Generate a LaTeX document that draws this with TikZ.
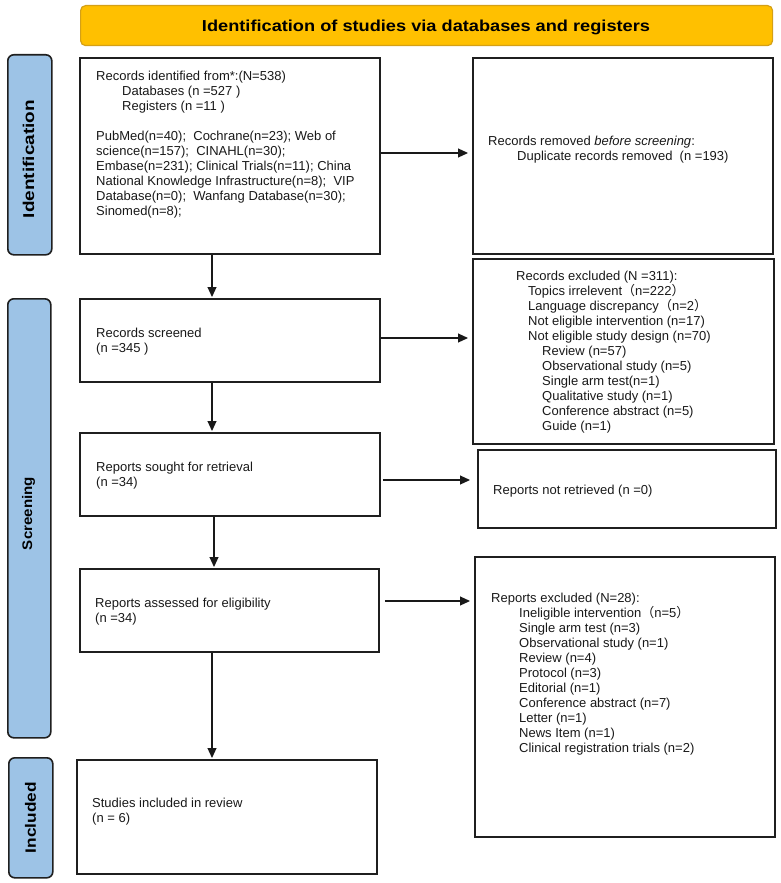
\documentclass[tikz,border=0pt]{standalone}
\usepackage{fontspec}
\setmainfont{Liberation Sans}
\newfontfamily\cjkfont{Noto Sans CJK SC}
\usetikzlibrary{arrows.meta}
\definecolor{gold}{HTML}{FFC000}
\definecolor{goldedge}{HTML}{D4A017}
\definecolor{labblue}{HTML}{9DC3E6}
\newcommand{\flp}{{\cjkfont （}}
\newcommand{\frp}{{\cjkfont ）}}
\begin{document}
\begin{tikzpicture}[x=1pt,y=-1pt,
  box/.style={draw=black!88, line width=1.8pt, fill=white, anchor=north west, inner sep=0pt},
  lab/.style={draw=black!88, line width=1.6pt, fill=labblue, rounded corners=6pt, anchor=north west, inner sep=0pt},
  txt/.style={anchor=north west, inner sep=0pt, align=left, font=\fontsize{13}{15}\selectfont, text=black!90},
  arr/.style={-{Triangle[length=10pt,width=9pt]}, line width=1.1pt, draw=black!90}]
\useasboundingbox (0,0) rectangle (780,883);

% title bar
\node[fill=gold, draw=goldedge, line width=1.2pt, rounded corners=5pt, anchor=north west, inner sep=0pt,
      minimum width=692pt, minimum height=40pt] (title) at (80,5) {};
\node[anchor=base, inner sep=0pt] (titletext) at (426,32) {\resizebox{448pt}{11.5pt}{\bfseries Identification of studies via databases and registers}};

% side labels
\node[lab, minimum width=44pt, minimum height=200pt] (idlab) at (7,54) {};
\node[lab, minimum width=43pt, minimum height=439pt] (scrlab) at (7,298) {};
\node[lab, minimum width=44pt, minimum height=120pt] (inclab) at (8,757) {};
\node[rotate=90, inner sep=0pt] (idtext) at (28.5,159) {\resizebox*{118pt}{11.5pt}{\bfseries Identification}};
\node[rotate=90, inner sep=0pt] (scrtext) at (28.5,513.5) {\resizebox*{73pt}{13pt}{\bfseries Screening}};
\node[rotate=90, inner sep=0pt] (inctext) at (30.5,817.5) {\resizebox*{71pt}{11pt}{\bfseries Included}};

% boxes
\node[box, minimum width=300pt, minimum height=196pt] (b1) at (79,57) {};
\node[box, minimum width=300pt, minimum height=196pt] (rem) at (472,57) {};
\node[box, minimum width=300pt, minimum height=83pt] (scr) at (79,298) {};
\node[box, minimum width=301pt, minimum height=185pt] (exc) at (472,258) {};
\node[box, minimum width=300pt, minimum height=83pt] (sought) at (79,432) {};
\node[box, minimum width=298pt, minimum height=78pt] (notret) at (477,449) {};
\node[box, minimum width=299pt, minimum height=83pt] (assess) at (79,568) {};
\node[box, minimum width=300pt, minimum height=280pt] (repexc) at (474,556) {};
\node[box, minimum width=300pt, minimum height=114pt] (incl) at (76,759) {};

% texts
\node[txt] (t1) at (96,70.5) {Records identified from*:(N=538)\\
\hspace*{26pt}Databases (n =527 )\\
\hspace*{26pt}Registers (n =11 )\\[15pt]
PubMed(n=40);\ \ Cochrane(n=23); Web of\\
science(n=157);\ \ CINAHL(n=30);\\
Embase(n=231); Clinical Trials(n=11); China\\
National Knowledge Infrastructure(n=8);\ \ VIP\\
Database(n=0);\ \ Wanfang Database(n=30);\\
Sinomed(n=8);};

\node[txt] (t2) at (488,135.5) {Records removed \textit{before screening}:\\
\hspace*{29pt}Duplicate records removed\ \ (n =193)};

\node[txt] (t3) at (516,270.5) {Records excluded (N =311):\\
\hspace*{12pt}Topics irrelevent\flp n=222\frp\\
\hspace*{12pt}Language discrepancy\flp n=2\frp\\
\hspace*{12pt}Not eligible intervention (n=17)\\
\hspace*{12pt}Not eligible study design (n=70)\\
\hspace*{26pt}Review (n=57)\\
\hspace*{26pt}Observational study (n=5)\\
\hspace*{26pt}Single arm test(n=1)\\
\hspace*{26pt}Qualitative study (n=1)\\
\hspace*{26pt}Conference abstract (n=5)\\
\hspace*{26pt}Guide (n=1)};

\node[txt] (t4) at (96,327.5) {Records screened\\(n =345 )};
\node[txt] (t5) at (96,462) {Reports sought for retrieval\\(n =34)};
\node[txt] (t6) at (493,484.5) {Reports not retrieved (n =0)};
\node[txt] (t7) at (95,597.5) {Reports assessed for eligibility\\(n =34)};

\node[txt] (t8) at (491,592.5) {Reports excluded (N=28):\\
\hspace*{28pt}Ineligible intervention\flp n=5\frp\\
\hspace*{28pt}Single arm test (n=3)\\
\hspace*{28pt}Observational study (n=1)\\
\hspace*{28pt}Review (n=4)\\
\hspace*{28pt}Protocol (n=3)\\
\hspace*{28pt}Editorial (n=1)\\
\hspace*{28pt}Conference abstract (n=7)\\
\hspace*{28pt}Letter (n=1)\\
\hspace*{28pt}News Item (n=1)\\
\hspace*{28pt}Clinical registration trials (n=2)};

\node[txt] (t9) at (92,797.5) {Studies included in review\\(n = 6)};

% connector guides
\coordinate (vA) at (212,0);
\coordinate (vB) at (214,0);
\coordinate (hA) at (0,153);
\coordinate (hB) at (0,338);
\coordinate (hC) at (0,480);
\coordinate (hD) at (0,601);

% vertical arrows
\draw[arr, shorten >=1pt] (vA |- b1.south) -- (vA |- scr.north);
\draw[arr, shorten >=1pt] (vA |- scr.south) -- (vA |- sought.north);
\draw[arr, shorten >=1pt] (vB |- sought.south) -- (vB |- assess.north);
\draw[arr, shorten >=1pt] (vA |- assess.south) -- (vA |- incl.north);

% horizontal arrows
\draw[arr, shorten >=4pt] (hA -| b1.east) -- (hA -| rem.west);
\draw[arr, shorten >=4pt] (hB -| scr.east) -- (hB -| exc.west);
\draw[arr, shorten <=2pt, shorten >=7pt] (hC -| sought.east) -- (hC -| notret.west);
\draw[arr, shorten <=5pt, shorten >=4pt] (hD -| assess.east) -- (hD -| repexc.west);
\end{tikzpicture}
\end{document}
